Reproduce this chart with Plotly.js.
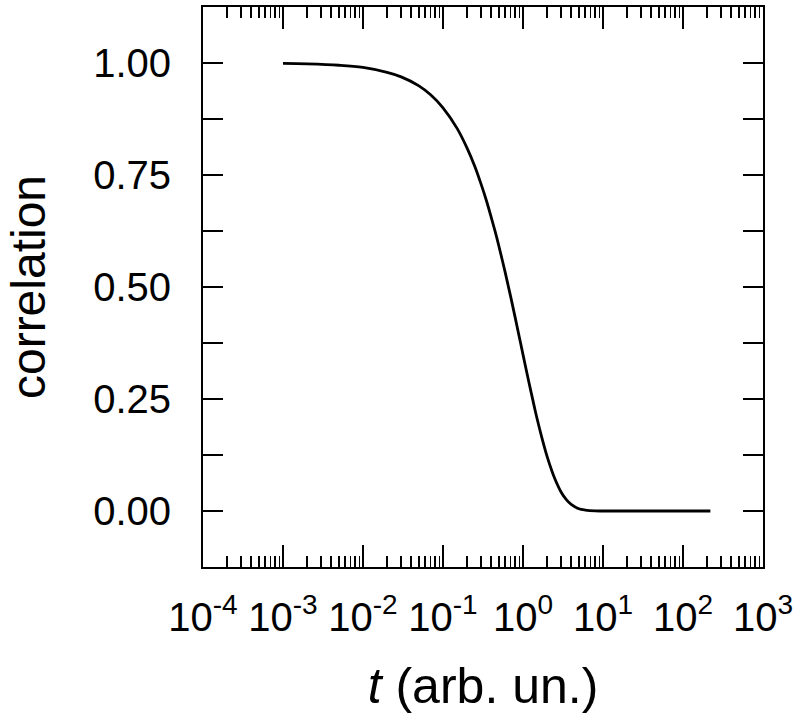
<!DOCTYPE html>
<html>
<head>
<meta charset="utf-8">
<script src="https://cdn.plot.ly/plotly-3.0.1.min.js"></script>
<style>
  html, body { margin: 0; padding: 0; background: #ffffff; }
  #chart { width: 797px; height: 725px; }
</style>
</head>
<body>
<div id="chart"></div>
<script>
// ---- data ----
const timeValues = [0.001, 0.002, 0.005, 0.01, 0.02, 0.03, 0.05, 0.07, 0.1, 0.15, 0.2, 0.25, 0.3, 0.35, 0.4, 0.45, 0.5, 0.6, 0.7, 0.8, 0.9, 1.0, 1.2, 1.4, 1.5, 1.75, 2.0, 2.25, 2.5, 3.0, 3.5, 4.0, 5.0, 6.0, 8.0, 10, 20, 50, 100, 220];
const correlationValues = [0.999, 0.998, 0.995, 0.990, 0.979, 0.969, 0.949, 0.929, 0.900, 0.854, 0.810, 0.769, 0.729, 0.692, 0.656, 0.623, 0.591, 0.532, 0.479, 0.431, 0.388, 0.349, 0.283, 0.229, 0.206, 0.159, 0.122, 0.094, 0.072, 0.042, 0.025, 0.015, 0.005, 0.002, 0.0002, 0.0, 0.0, 0.0, 0.0, 0.0];

// ---- tick labels ----
const xTickValues = [1e-4, 1e-3, 1e-2, 1e-1, 1e0, 1e1, 1e2, 1e3];
const xTickLabels = ["10<sup>-4</sup>", "10<sup>-3</sup>", "10<sup>-2</sup>", "10<sup>-1</sup>", "10<sup>0</sup>", "10<sup>1</sup>", "10<sup>2</sup>", "10<sup>3</sup>"];
const yTickValues = [0, 0.125, 0.25, 0.375, 0.5, 0.625, 0.75, 0.875, 1.0];
const yTickLabels = ["0.00", "", "0.25", "", "0.50", "", "0.75", "", "1.00"];

// minor log ticks (2..9 in each decade)
const xMinorTicks = [];
for (let e = -4; e < 3; e++) {
  for (let m = 2; m <= 9; m++) xMinorTicks.push(m * Math.pow(10, e));
}

const FONT = "Liberation Sans, Arial, Helvetica, sans-serif";

const trace = {
  x: timeValues,
  y: correlationValues,
  type: "scatter",
  mode: "lines",
  line: { color: "#000000", width: 2.8, shape: "spline", smoothing: 1 },
  hoverinfo: "x+y",
  showlegend: false
};

const layout = {
  width: 797,
  height: 725,
  paper_bgcolor: "#ffffff",
  plot_bgcolor: "#ffffff",
  margin: { l: 203, r: 34, t: 7, b: 158, pad: 0 },
  font: { family: FONT, color: "#000000", size: 40 },
  showlegend: false,
  xaxis: {
    type: "log",
    range: [-4, 3],
    tickmode: "array",
    tickvals: xTickValues,
    ticktext: xTickLabels,
    ticks: "inside",
    ticklen: 22,
    tickwidth: 2,
    tickcolor: "#000000",
    ticklabelstandoff: 14,
    tickfont: { family: FONT, size: 40, color: "#000000" },
    minor: { tickmode: "array", tickvals: xMinorTicks, ticks: "inside", ticklen: 11, tickwidth: 1.6, tickcolor: "#000000", showgrid: false },
    showline: true,
    linecolor: "#000000",
    linewidth: 2,
    mirror: "ticks",
    showgrid: false,
    zeroline: false,
    title: { text: "<i>t</i> (arb. un.)", font: { family: FONT, size: 50, color: "#000000" }, standoff: 30 }
  },
  yaxis: {
    range: [-0.125, 1.125],
    tickmode: "array",
    tickvals: yTickValues,
    ticktext: yTickLabels,
    ticks: "inside",
    ticklen: 20,
    tickwidth: 2,
    tickcolor: "#000000",
    ticklabelstandoff: 22,
    tickfont: { family: FONT, size: 40, color: "#000000" },
    showline: true,
    linecolor: "#000000",
    linewidth: 2,
    mirror: "ticks",
    showgrid: false,
    zeroline: false,
    title: { text: "correlation", font: { family: FONT, size: 48, color: "#000000" }, standoff: 32 }
  }
};

Plotly.newPlot("chart", [trace], layout, { staticPlot: true, displayModeBar: false });
</script>
</body>
</html>
